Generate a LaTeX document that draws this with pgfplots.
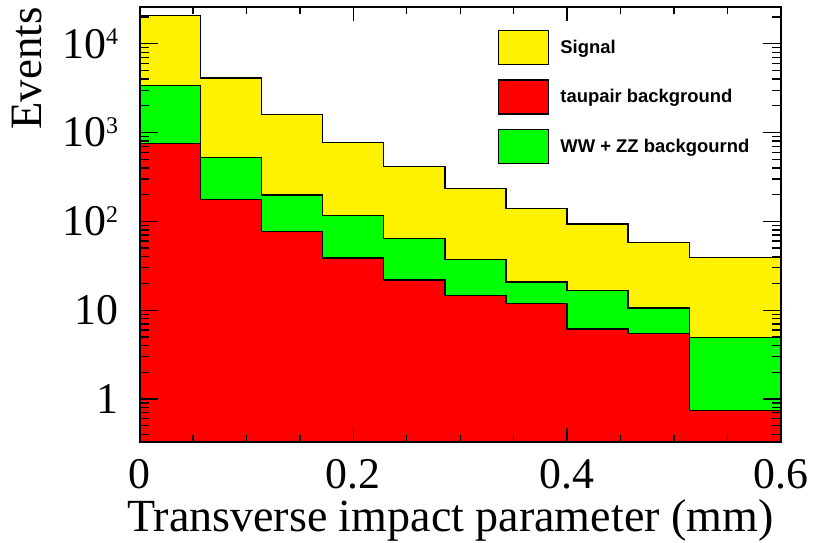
\documentclass[border=0pt]{standalone}
\usepackage{fontspec}
\setmainfont{Liberation Serif}
\newfontfamily\legfont{Liberation Sans}
\usepackage{pgfplots}
\pgfplotsset{compat=1.18}
\usetikzlibrary{calc}
\newcommand\ep[1]{10\raisebox{13.5bp}{\fontsize{24}{26}\selectfont #1}}
\begin{document}
\begin{tikzpicture}
\begin{axis}[name=ax,
  scale only axis, width=641bp, height=435bp,
  ymode=log, xmin=0, xmax=0.6, ymin=0.3254, ymax=25700,
  axis on top,
  axis line style={line width=2bp},
  xtick={0,0.2,0.4,0.6}, xticklabels={0,0.2,0.4,0.6},
  ytick={1,10,100,1000,10000}, yticklabels={1,10,\ep{2},\ep{3},\ep{4}},
  major tick length=0bp, minor tick length=0bp,
  ticklabel style={font=\fontsize{44}{48}\selectfont},
  yticklabel style={inner sep=0pt, xshift=-21.5bp},
  xticklabel style={inner sep=0pt, yshift=-17bp},
  xlabel={Transverse impact parameter (mm)},
  xlabel style={font=\fontsize{46.2}{50}\selectfont, at={(axis description cs:1,0)}, anchor=base east, inner sep=0pt, yshift=-89.4bp, xshift=-7bp},
  ylabel={Events},
  ylabel style={font=\fontsize{45}{50}\selectfont, at={(axis description cs:-0.1992,1)}, anchor=north east, inner sep=0pt},
  legend image code/.code={\draw[#1, line width=1.2bp] (0bp,-17bp) rectangle (50bp,17bp);},
  legend cell align=left,
  legend style={draw=none, fill=none, inner sep=0pt, at={(axis description cs:0.559,0.948)}, anchor=north west,
    row sep=14bp, font=\legfont\bfseries\fontsize{18.5}{20}\selectfont,
    nodes={inner sep=0pt},
    /tikz/every odd column/.append style={column sep=11bp}},
]
\addplot[const plot, fill=yellow, draw=black, line width=1.2bp, forget plot] coordinates {
(0,0.01) (0,20700) (0.05714,4120) (0.11429,1580) (0.17143,769) (0.22857,413) (0.28571,232) (0.34286,139) (0.4,93.5) (0.45714,58.2) (0.51429,39.4) (0.6,0.01)};
\addplot[const plot, fill=green, draw=black, line width=1.2bp, forget plot] coordinates {
(0,0.01) (0,3375) (0.05714,527) (0.11429,198) (0.17143,117) (0.22857,63.9) (0.28571,37.4) (0.34286,20.8) (0.4,16.6) (0.45714,10.6) (0.51429,4.95) (0.6,0.01)};
\addplot[const plot, fill=red, draw=black, line width=1.2bp, forget plot] coordinates {
(0,0.01) (0,750) (0.05714,177) (0.11429,77.3) (0.17143,38.7) (0.22857,21.9) (0.28571,14.6) (0.34286,11.8) (0.4,6.14) (0.45714,5.44) (0.51429,0.746) (0.6,0.01)};
\pgfplotsinvokeforeach{0.2,0.4}{
  \draw[line width=1.3bp, black] (axis cs:#1,0.3254) -- ++(0bp,14bp);
  \draw[line width=1.3bp, black] (axis cs:#1,25700) -- ++(0bp,-14bp);
}
\pgfplotsinvokeforeach{0.05,0.1,0.15,0.25,0.3,0.35,0.45,0.5,0.55}{
  \draw[line width=1.3bp, black] (axis cs:#1,0.3254) -- ++(0bp,7bp);
  \draw[line width=1.3bp, black] (axis cs:#1,25700) -- ++(0bp,-7bp);
}
\pgfplotsinvokeforeach{1,10,100,1000,10000}{
  \draw[line width=1.3bp, black] (axis cs:0,#1) -- ++(18bp,0bp);
  \draw[line width=1.3bp, black] (axis cs:0.6,#1) -- ++(-18bp,0bp);
}
\pgfplotsinvokeforeach{0.4,0.5,0.6,0.7,0.8,0.9,2,3,4,5,6,7,8,9,20,30,40,50,60,70,80,90,200,300,400,500,600,700,800,900,2000,3000,4000,5000,6000,7000,8000,9000,20000}{
  \draw[line width=1.3bp, black] (axis cs:0,#1) -- ++(9bp,0bp);
  \draw[line width=1.3bp, black] (axis cs:0.6,#1) -- ++(-9bp,0bp);
}
\addlegendimage{fill=yellow, draw=black}
\addlegendentry{Signal}
\addlegendimage{fill=red, draw=black}
\addlegendentry{taupair background}
\addlegendimage{fill=green, draw=black}
\addlegendentry{WW + ZZ backgournd}
\end{axis}
\useasboundingbox ($(ax.south west)+(-139.7bp,-99.7bp)$) rectangle ($(ax.north east)+(32.3bp,7.3bp)$);
\end{tikzpicture}
\end{document}
